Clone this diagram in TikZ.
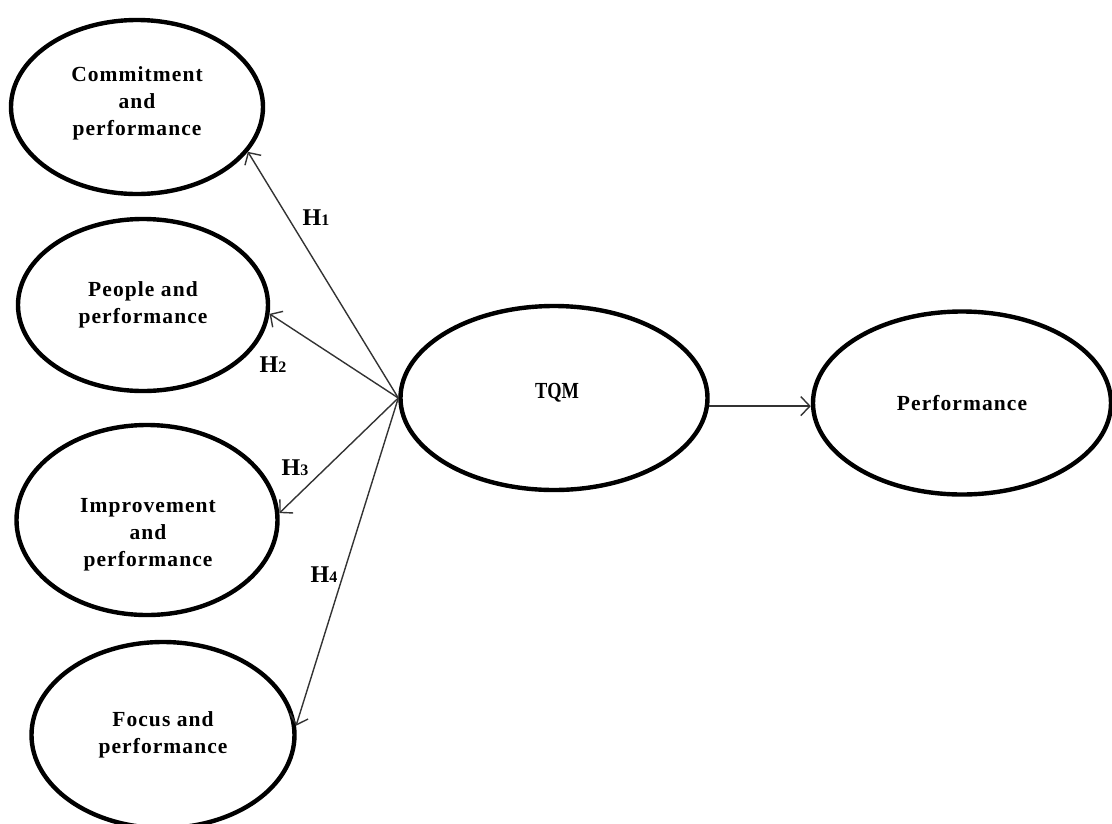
\documentclass[tikz,border=0pt]{standalone}
\usepackage{fontspec}
\usepackage{graphicx}
\setmainfont{Liberation Serif}
\newfontfamily\spacedfont[LetterSpace=5]{Liberation Serif}
\usetikzlibrary{shapes, arrows.meta, positioning}
\newcommand{\HypLabel}[1]{\fontsize{24}{26}\selectfont\bfseries H{\fontsize{16}{17}\selectfont #1}}

\begin{document}
\begin{tikzpicture}[
	x=1pt, y=-1pt,
	construct/.style={
		draw,
		ellipse,
		line width=4.4pt,
		inner sep=0pt,
		align=center,
		font=\spacedfont\bfseries\fontsize{21.5}{27}\selectfont
	},
	construct text/.style={
		align=center,
		font=\spacedfont\bfseries\fontsize{21.5}{27}\selectfont
	},
	hyp/.style={
		draw=black!80,
		line width=1.4pt,
		-{Straight Barb[length=9pt,width=19pt]}
	},
	hyp label/.style={
		inner sep=0pt
	}
]
	\useasboundingbox (0,0) rectangle (1112,823);

	% dimensions
	\node[construct, minimum width=252pt, minimum height=174pt] (commit) at (137,107) {};
	\node[construct text] (commit text) at (137,103) {Commitment\\and\\performance};
	\node[construct, minimum width=250pt, minimum height=172pt] (people) at (143,305) {People and\\performance};
	\node[construct, minimum width=261pt, minimum height=190pt] (improve) at (147,520) {};
	\node[construct text] (improve text) at (148,535) {Improvement\\and\\performance};
	\node[construct, minimum width=263pt, minimum height=186pt] (focus) at (163,735) {Focus and\\performance};

	% main constructs
	\node[construct, minimum width=307pt, minimum height=184pt] (tqm) at (554,398) {};
	\node (tqm text) at (557,393) {\bfseries\fontsize{23}{25}\selectfont\scalebox{0.8}[1]{TQM}};
	\node[construct, minimum width=298pt, minimum height=183pt] (perf) at (962,403) {Performance};

	% hypotheses
	\draw[hyp] (tqm.west) -- (commit.-22);
	\draw[hyp] (tqm.west) -- (people.-4);
	\draw[hyp] (tqm.west) -- (improve.3);
	\draw[hyp] (tqm.west) -- (focus.4);
	\draw[hyp] (tqm.-3) -- (tqm.-3 -| perf.west);

	\node[hyp label] (h1) at (316,218) {\HypLabel{1}};
	\node[hyp label] (h2) at (273,365) {\HypLabel{2}};
	\node[hyp label] (h3) at (295,468) {\HypLabel{3}};
	\node[hyp label] (h4) at (324,575) {\HypLabel{4}};
\end{tikzpicture}
\end{document}
